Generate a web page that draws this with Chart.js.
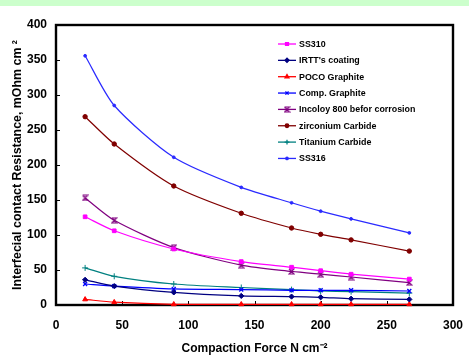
<!DOCTYPE html>
<html>
<head>
<meta charset="utf-8">
<script src="https://cdn.jsdelivr.net/npm/chart.js@4.4.0/dist/chart.umd.min.js"></script>
<style>
html,body{margin:0;padding:0;background:#fff;}
#wrap{width:469px;height:360px;position:relative;}
</style>
</head>
<body>
<div id="wrap"><canvas id="c" width="469" height="360"></canvas></div>
<script>
// ---- data ----
const forces   = [22, 44, 89, 140, 178, 200, 223, 267];
const ss310    = [126, 106, 80, 62, 54, 49, 44, 37];
const irtt     = [36, 27, 18, 13, 12, 11, 9, 8];
const poco     = [8, 4, 1, 1, 1, 1, 1, 1];
const compGr   = [30, 27, 23, 22, 21, 21, 21, 20];
const incoloy  = [153, 121, 82, 57, 48, 44, 40, 32];
const zrc      = [269, 230, 170, 131, 110, 101, 93, 77];
const tic      = [53, 41, 30, 25, 22, 20, 19, 17];
const ss316    = [356, 285, 211, 168, 146, 134, 123, 103];
const seriesNames = ["SS310", "IRTT's coating", "POCO Graphite", "Comp. Graphite",
  "Incoloy 800 befor corrosion", "zirconium Carbide", "Titanium Carbide", "SS316"];
const xTicks = [0, 50, 100, 150, 200, 250, 300];
const yTicks = [0, 50, 100, 150, 200, 250, 300, 350, 400];

function hourglass(color){
  const c=document.createElement('canvas'); c.width=7; c.height=7;
  const g=c.getContext('2d'); g.strokeStyle=color; g.lineWidth=1.2;
  g.beginPath(); g.moveTo(1,1); g.lineTo(6,1); g.lineTo(1,6); g.lineTo(6,6); g.lineTo(1,1); g.stroke();
  return c;
}

const styles = [
  {color:'#ff00ff', pointStyle:'rect', radius:2.6, bw:1},
  {color:'#000080', pointStyle:'rectRot', radius:2.6, bw:1},
  {color:'#ff0000', pointStyle:'triangle', radius:2.8, bw:1},
  {color:'#0000ff', pointStyle:'crossRot', radius:2.8, bw:1.3},
  {color:'#800080', pointStyle:hourglass('#800080'), radius:3.5, bw:1},
  {color:'#800000', pointStyle:'circle', radius:2.2, bw:1},
  {color:'#008080', pointStyle:'cross', radius:3, bw:1},
  {color:'#2a2aff', pointStyle:'circle', radius:1.4, bw:1}
];
const values = [ss310, irtt, poco, compGr, incoloy, zrc, tic, ss316];

const datasets = values.map((v,i)=>({
  label: seriesNames[i],
  data: v.map((y,j)=>({x:forces[j], y:y})),
  borderColor: styles[i].color,
  backgroundColor: styles[i].color,
  borderWidth: 1.2,
  pointStyle: styles[i].pointStyle,
  pointRadius: styles[i].radius,
  pointBorderWidth: styles[i].bw,
  pointBackgroundColor: styles[i].color,
  pointBorderColor: styles[i].color,
  tension: 0.25,
  clip: false
}));

const FONT = 'Liberation Sans, Arial, sans-serif';

const decor = {
  id:'decor',
  beforeDraw(chart){
    const ctx=chart.ctx; ctx.save();
    ctx.fillStyle='#ffffff'; ctx.fillRect(0,0,chart.width,chart.height);
    ctx.fillStyle='#ccffcc'; ctx.fillRect(0,0,chart.width,6);
    ctx.restore();
  },
  beforeDatasetsDraw(chart){
    const ctx=chart.ctx, a=chart.chartArea, xs=chart.scales.x, ys=chart.scales.y;
    ctx.save();
    ctx.strokeStyle='#000'; ctx.lineWidth=1;
    ctx.beginPath();
    xTicks.forEach(t=>{ if(t>0&&t<300){ const px=Math.round(xs.getPixelForValue(t))+0.5; ctx.moveTo(px,a.bottom); ctx.lineTo(px,a.bottom-4);} });
    yTicks.forEach(t=>{ if(t>0&&t<400){ const py=Math.round(ys.getPixelForValue(t))+0.5; ctx.moveTo(a.left,py); ctx.lineTo(a.left+4,py);} });
    ctx.stroke();
    ctx.lineWidth=2.4; ctx.strokeStyle='#000';
    ctx.strokeRect(a.left, a.top, a.right-a.left, a.bottom-a.top);
    ctx.restore();
  },
  afterDraw(chart){
    const ctx=chart.ctx; ctx.save();
    const x0=278, x1=296, xt=299, y0=44, dy=16.35;
    ctx.font='bold 8.9px '+FONT; ctx.textBaseline='middle'; ctx.textAlign='left';
    chart.data.datasets.forEach((ds,i)=>{
      const y=y0+i*dy;
      ctx.strokeStyle=ds.borderColor; ctx.lineWidth=1.3;
      ctx.beginPath(); ctx.moveTo(x0,y); ctx.lineTo(x1,y); ctx.stroke();
      ctx.fillStyle=ds.borderColor;
      Chart.helpers.drawPoint(ctx,{pointStyle:ds.pointStyle, rotation:0, radius:Math.max(1.2, ds.pointRadius*0.8), borderWidth:ds.pointBorderWidth}, (x0+x1)/2, y);
      ctx.fillStyle='#000';
      ctx.fillText(ds.label, xt, y+0.5);
    });
    ctx.restore();
  }
};

new Chart(document.getElementById('c'), {
  type:'line',
  data:{datasets},
  options:{
    responsive:false,
    animation:false,
    layout:{padding:{top:25,right:16,left:0,bottom:0}},
    plugins:{legend:{display:false}, tooltip:{enabled:false}},
    scales:{
      x:{type:'linear', min:0, max:300,
        afterBuildTicks(s){ s.ticks = xTicks.map(v=>({value:v})); },
        afterFit(s){ s.height=55; s.paddingLeft=0; s.paddingRight=0; },
        grid:{display:false, drawTicks:false}, border:{display:false},
        ticks:{padding:13, color:'#000', font:{family:FONT, size:12, weight:'bold'}, maxRotation:0, autoSkip:false},
        title:{display:true, text:'Compaction Force N cm\u207B\u00B2', color:'#000',
          font:{family:FONT, size:12, weight:'bold'}, padding:{top:0,bottom:4}}
      },
      y:{type:'linear', min:0, max:400,
        afterBuildTicks(s){ s.ticks = yTicks.map(v=>({value:v})); },
        afterFit(s){ s.width=56; s.paddingTop=0; s.paddingBottom=0; },
        grid:{display:false, drawTicks:false}, border:{display:false},
        ticks:{padding:9, color:'#000', font:{family:FONT, size:12, weight:'bold'}, autoSkip:false},
        title:{display:true, text:'Interfecial contact Resistance, mOhm cm \u00B2', color:'#000',
          font:{family:FONT, size:12.4, weight:'bold'}, padding:{top:10,bottom:0}}
      }
    }
  },
  plugins:[decor]
});
</script>
</body>
</html>
